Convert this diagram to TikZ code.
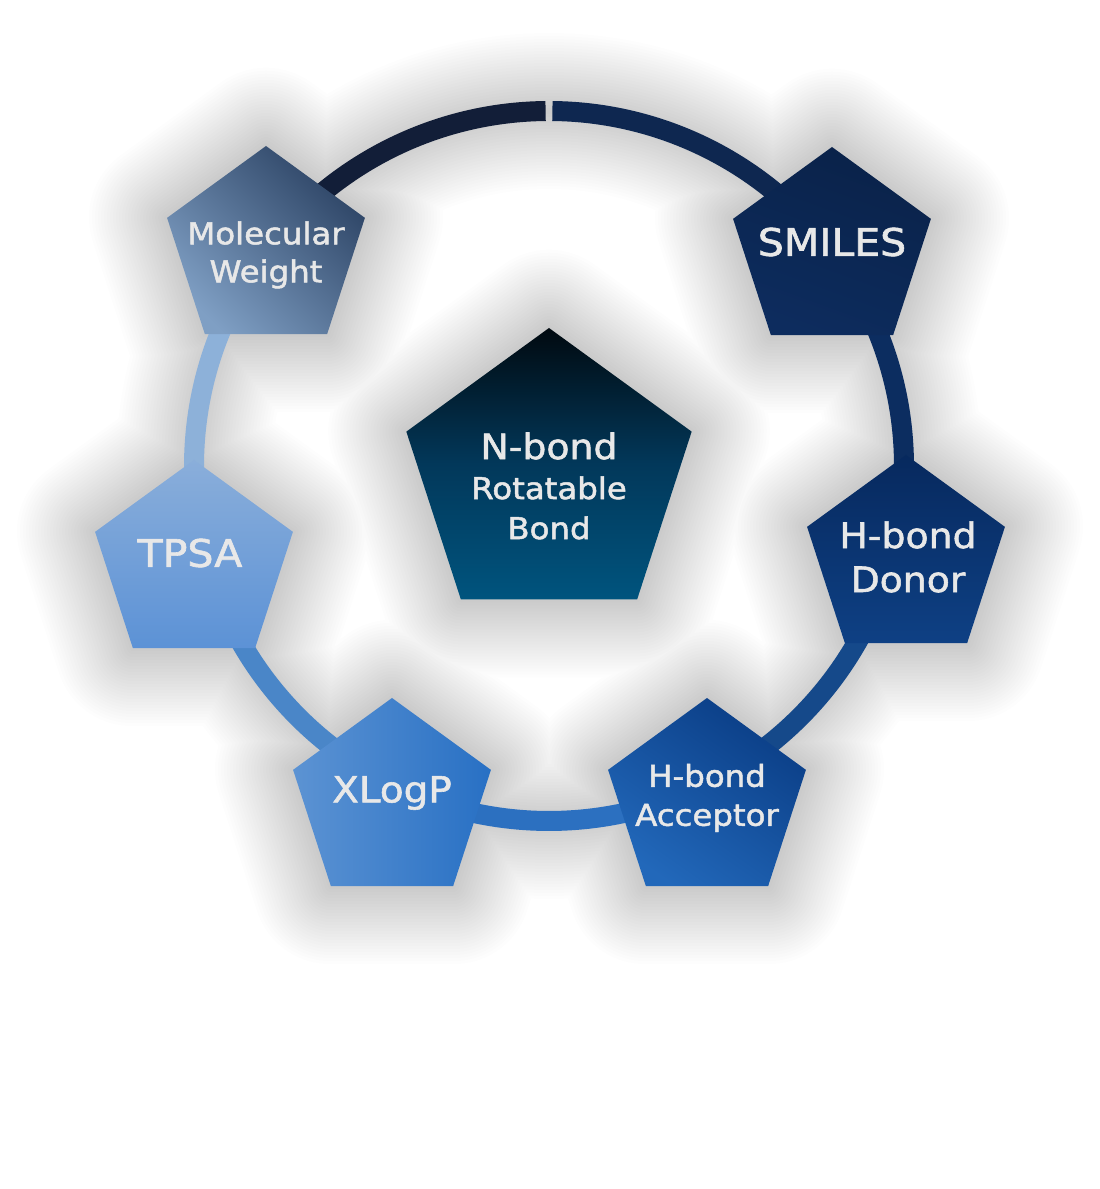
\documentclass[tikz,border=0pt]{standalone}
\usepackage{fontspec}
\newfontfamily\lblfont{DejaVu Sans}[FakeStretch=1.08, FakeBold=1.6]
\usetikzlibrary{shapes.geometric,backgrounds}

% ring segment colours
\definecolor{segA}{HTML}{121E38}
\definecolor{segB}{HTML}{0E2750}
\definecolor{segC}{HTML}{0C2D60}
\definecolor{segD}{HTML}{15498A}
\definecolor{segE}{HTML}{2C70C0}
\definecolor{segF}{HTML}{4A86C8}
\definecolor{segG}{HTML}{8DB1D9}
% pentagon colours
\definecolor{mwDark}{HTML}{2C4364}
\definecolor{mwLight}{HTML}{7F9FC4}
\definecolor{smTop}{HTML}{0A2249}
\definecolor{smBot}{HTML}{0D2C5E}
\definecolor{doTop}{HTML}{07295E}
\definecolor{doBot}{HTML}{0E4084}
\definecolor{acDark}{HTML}{0A3D85}
\definecolor{acLight}{HTML}{2268BA}
\definecolor{xlLight}{HTML}{5C93D3}
\definecolor{xlDark}{HTML}{2870C4}
\definecolor{tpTop}{HTML}{8AAEDA}
\definecolor{tpBot}{HTML}{5C92D6}
\definecolor{coTop}{HTML}{010A10}
\definecolor{coMid}{HTML}{02385A}
\definecolor{coBot}{HTML}{00547E}
\definecolor{lblGrey}{HTML}{E8E8E8}

\tikzset{
  pent/.style={regular polygon, regular polygon sides=5, minimum size=208pt,
    inner sep=0pt, outer sep=0pt, draw=none},
  lbl/.style args={#1/#2}{text=lblGrey, align=center, inner sep=0pt,
    font=\lblfont\fontsize{#1}{#2}\selectfont},
  ringseg/.style={line width=20pt, draw=#1, line cap=butt},
}

\begin{document}
\begin{tikzpicture}[x=1pt,y=1pt]
\useasboundingbox (0,0) rectangle (1100,1189);

\coordinate (rc) at (549,723);

% the ring, one arc between each pair of neighbouring pentagons
\draw[ringseg=segA] (rc) ++(90.55:355) arc[start angle=90.55, end angle=142.6, radius=355];
\draw[ringseg=segB] (rc) ++(37.2:355) arc[start angle=37.2, end angle=89.45, radius=355];
\draw[ringseg=segC] (rc) ++(-14.6:355) arc[start angle=-14.6, end angle=37.2, radius=355];
\draw[ringseg=segD] (rc) ++(-64.8:355) arc[start angle=-64.8, end angle=-14.6, radius=355];
\draw[ringseg=segE] (rc) ++(-115:355) arc[start angle=-115, end angle=-64.8, radius=355];
\draw[ringseg=segF] (rc) ++(-164.6:355) arc[start angle=-164.6, end angle=-115, radius=355];
\draw[ringseg=segG] (rc) ++(142.6:355) arc[start angle=142.6, end angle=195.4, radius=355];

% pentagons
\node[pent, top color=mwDark, bottom color=mwLight, shading angle=-45] (mw) at (266,939) {};
\node[pent, top color=smTop, bottom color=smBot, shading angle=-20] (smiles) at (832,938) {};
\node[pent, top color=doTop, bottom color=doBot] (donor) at (906,630) {};
\node[pent, top color=acDark, bottom color=acLight, shading angle=-35] (acceptor) at (707,387) {};
\node[pent, left color=xlLight, right color=xlDark] (xlogp) at (392,387) {};
\node[pent, top color=tpTop, bottom color=tpBot] (tpsa) at (194,625) {};
\node[pent, minimum size=300pt, top color=coTop, bottom color=coBot, middle color=coMid] (core) at (549,711) {};

% labels
\node[lbl=30pt/38pt] (mw-t) at ([yshift=-5pt]mw.center) {Molecular\\Weight};
\node[lbl=38pt/44pt] (smiles-t) at ([yshift=9pt]smiles.center) {SMILES};
\node[lbl=35pt/44pt] (donor-t) at ([xshift=2pt,yshift=2pt]donor.center) {H-bond\\Donor};
\node[lbl=30pt/39pt] (acceptor-t) at ([yshift=4pt]acceptor.center) {H-bond\\Acceptor};
\node[lbl=36pt/44pt] (xlogp-t) at ([yshift=9pt]xlogp.center) {XLogP};
\node[lbl=38pt/44pt] (tpsa-t) at ([xshift=-4pt,yshift=11pt]tpsa.center) {TPSA};
\node[lbl=30pt/40pt] (core-t) at ([yshift=-8pt]core.center)
  {{\fontsize{35pt}{40pt}\selectfont N-bond}\\Rotatable\\Bond};

% soft grey haze behind the whole figure, built from many faint layers
\begin{pgfonlayer}{background}
  \fill[white] (0,0) rectangle (1100,1189);
  \foreach \w in {6,12,...,156}{
    \begin{scope}[transparency group, opacity=0.0062]
      \draw[line width=\w pt, black] (rc) circle[radius=355];
      \foreach \p in {mw,smiles,donor,acceptor,xlogp,tpsa,core}{
        \filldraw[line width=\w pt, line join=round, black]
          (\p.corner 1) -- (\p.corner 2) -- (\p.corner 3) -- (\p.corner 4) -- (\p.corner 5) -- cycle;
      }
    \end{scope}
  }
\end{pgfonlayer}
\end{tikzpicture}
\end{document}
